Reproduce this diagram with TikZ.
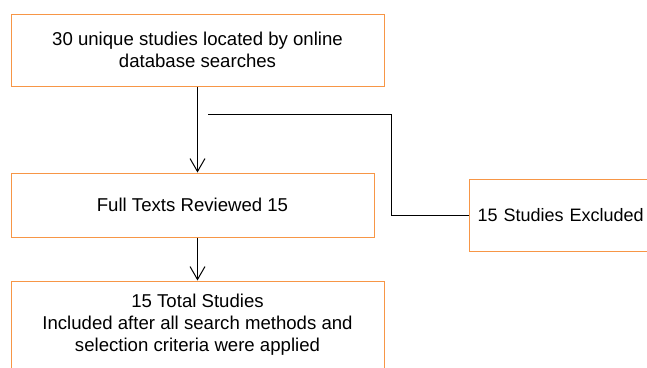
\documentclass[tikz,border=0pt]{standalone}
\usepackage{fontspec}
\setmainfont{Liberation Sans}
\usepackage{tikz}
\usetikzlibrary{arrows.meta,positioning}
\definecolor{boxorange}{RGB}{247,150,70}
\tikzset{
  stagebox/.style={draw=boxorange, line width=1pt, align=center, inner sep=0pt,
    font=\fontsize{18.6}{22}\selectfont},
  flowarrow/.style={line width=1pt, -{Straight Barb[length=13pt,width=15pt,line width=1pt]}},
  flowline/.style={line width=1pt}
}

\begin{document}
\begin{tikzpicture}[x=1pt,y=-1pt]
                % page frame
                \clip (0,0) rectangle (647,367);

                % Boxes
                \node[stagebox, minimum width=373pt, minimum height=72pt] (search) at (197.5,50)
                    {30 unique studies located by online\\database searches};
                \node[stagebox, minimum width=363pt, minimum height=64pt] (fulltext) at (192.5,205)
                    {Full Texts Reviewed 15};
                \node[stagebox, minimum width=373pt, minimum height=88pt] (total) at (197.5,325)
                    {15 Total Studies\\Included after all search methods and\\selection criteria were applied};
                \node[stagebox, font=\fontsize{18}{22}\selectfont, minimum height=72pt, text width=180pt,
                    align=left, inner xsep=8pt, anchor=west] (excluded) at (469,215)
                    {15 Studies Excluded};

                % Arrows down the main column
                \draw[flowarrow] (search.south) -- (search.south |- fulltext.north);
                \draw[flowarrow] (total.north |- fulltext.south) -- (total.north);

                % Branch to the excluded studies
                \coordinate (split) at (208,114);
                \draw[flowline] (split) -- ++(183,0) |- (excluded.west);
            \end{tikzpicture}
\end{document}
